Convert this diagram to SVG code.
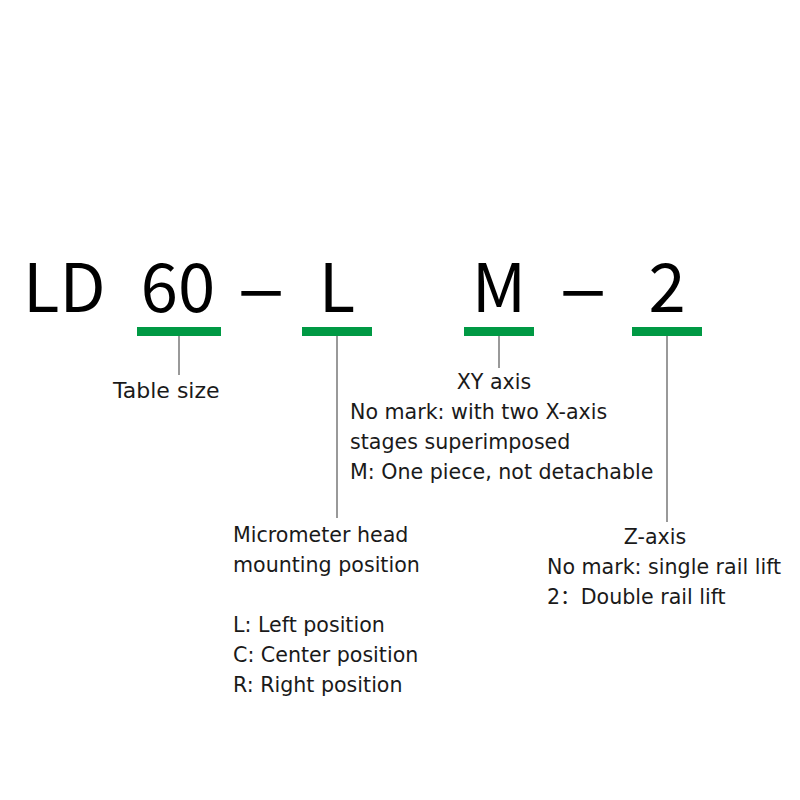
<svg xmlns="http://www.w3.org/2000/svg" width="800" height="800" viewBox="0 0 800 800">
<style>
.big{font-family:"Noto Sans CJK SC","Noto Sans",sans-serif;font-size:67px;fill:#000}
.t{font-family:"DejaVu Sans","Noto Sans CJK SC",sans-serif;font-size:20.6px;fill:#1a1a1a}
.bar{fill:#009944}
.ln{stroke:#999;stroke-width:2;fill:none}
</style>
<rect width="800" height="800" fill="#fff"/>
<g id="code">
<text class="big" x="23" y="312">LD</text>
<text class="big" x="178" y="312" text-anchor="middle">60</text>
<text class="big" transform="translate(261,312) scale(2.3,1)" text-anchor="middle">-</text>
<text class="big" x="337" y="312" text-anchor="middle">L</text>
<text class="big" x="499" y="312" text-anchor="middle">M</text>
<text class="big" transform="translate(583,312) scale(2.3,1)" text-anchor="middle">-</text>
<text class="big" x="667" y="312" text-anchor="middle">2</text>
</g>
<g id="connectors">
<line class="ln" x1="179" y1="335" x2="179" y2="375"/>
<line class="ln" x1="337" y1="335" x2="337" y2="518"/>
<line class="ln" x1="499" y1="335" x2="499" y2="368"/>
<line class="ln" x1="667" y1="335" x2="667" y2="522"/>
</g>
<g id="table-size">
<rect class="bar" x="137" y="327" width="84" height="9"/>
<text class="t" x="113" y="398" style="font-size:22px">Table size</text>
</g>
<g id="micrometer">
<rect class="bar" x="302" y="327" width="70" height="9"/>
<text class="t" x="233" y="542">Micrometer head</text>
<text class="t" x="233" y="572">mounting position</text>
<text class="t" x="233" y="632">L: Left position</text>
<text class="t" x="233" y="662">C: Center position</text>
<text class="t" x="233" y="692">R: Right position</text>
</g>
<g id="xy-axis">
<rect class="bar" x="464" y="327" width="70" height="9"/>
<text class="t" x="494" y="389" text-anchor="middle">XY axis</text>
<text class="t" x="350" y="419">No mark: with two X-axis</text>
<text class="t" x="350" y="449">stages superimposed</text>
<text class="t" x="350" y="479">M: One piece, not detachable</text>
</g>
<g id="z-axis">
<rect class="bar" x="632" y="327" width="70" height="9"/>
<text class="t" x="655" y="544" text-anchor="middle">Z-axis</text>
<text class="t" x="547" y="574">No mark: single rail lift</text>
<text class="t" x="547" y="604">2：Double rail lift</text>
</g>
</svg>
